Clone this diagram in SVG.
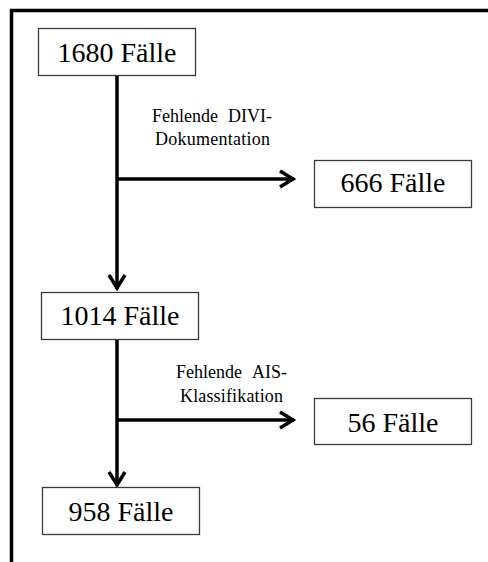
<svg xmlns="http://www.w3.org/2000/svg" width="488" height="562" viewBox="0 0 488 562">
<defs>
<style>
.box{fill:#fff;stroke:#3a3a3a;stroke-width:1.3}
.nt{font-size:28px;fill:#000;text-anchor:middle}
.lb{font-size:18px;fill:#000}
.cn{stroke:#000;stroke-width:3.5;fill:none}
</style>
<marker id="ah" markerUnits="userSpaceOnUse" markerWidth="24" markerHeight="24" viewBox="-20 -12 24 24" refX="0" refY="0" orient="auto">
<path d="M-14,-8 L-1,0 L-14,8" fill="none" stroke="#000" stroke-width="3.5" stroke-linejoin="miter"/>
</marker>
</defs>
<rect width="488" height="562" fill="#fff"/>
<path d="M11.5,562 V10.5 H488" fill="none" stroke="#000" stroke-width="3.5"/>
<g font-family="'Liberation Serif', 'Times New Roman', 'DejaVu Serif', serif">
<g id="connectors">
<line class="cn" x1="117" y1="76" x2="117" y2="289" marker-end="url(#ah)"/>
<line class="cn" x1="117" y1="179" x2="294" y2="179" marker-end="url(#ah)"/>
<line class="cn" x1="117" y1="339" x2="117" y2="486" marker-end="url(#ah)"/>
<line class="cn" x1="117" y1="420" x2="294" y2="420" marker-end="url(#ah)"/>
<text class="lb" x="152" y="122">Fehlende<tspan x="228">DIVI-</tspan></text>
<text class="lb" x="155" y="145" textLength="115">Dokumentation</text>
<text class="lb" x="176" y="378">Fehlende<tspan x="252">AIS-</tspan></text>
<text class="lb" x="180" y="402" textLength="103">Klassifikation</text>
</g>
<g id="n1680">
<rect class="box" x="38.5" y="28.5" width="157" height="47"/>
<text class="nt" x="117" y="62">1680 Fälle</text>
</g>
<g id="n666">
<rect class="box" x="314.5" y="160.5" width="157" height="47"/>
<text class="nt" x="393" y="192">666 Fälle</text>
</g>
<g id="n1014">
<rect class="box" x="41.5" y="292.5" width="157" height="47"/>
<text class="nt" x="120" y="325">1014 Fälle</text>
</g>
<g id="n56">
<rect class="box" x="314.5" y="398.5" width="157" height="46"/>
<text class="nt" x="393" y="432">56 Fälle</text>
</g>
<g id="n958">
<rect class="box" x="42.5" y="487.5" width="157" height="47"/>
<text class="nt" x="121" y="521">958 Fälle</text>
</g>
</g>
</svg>
